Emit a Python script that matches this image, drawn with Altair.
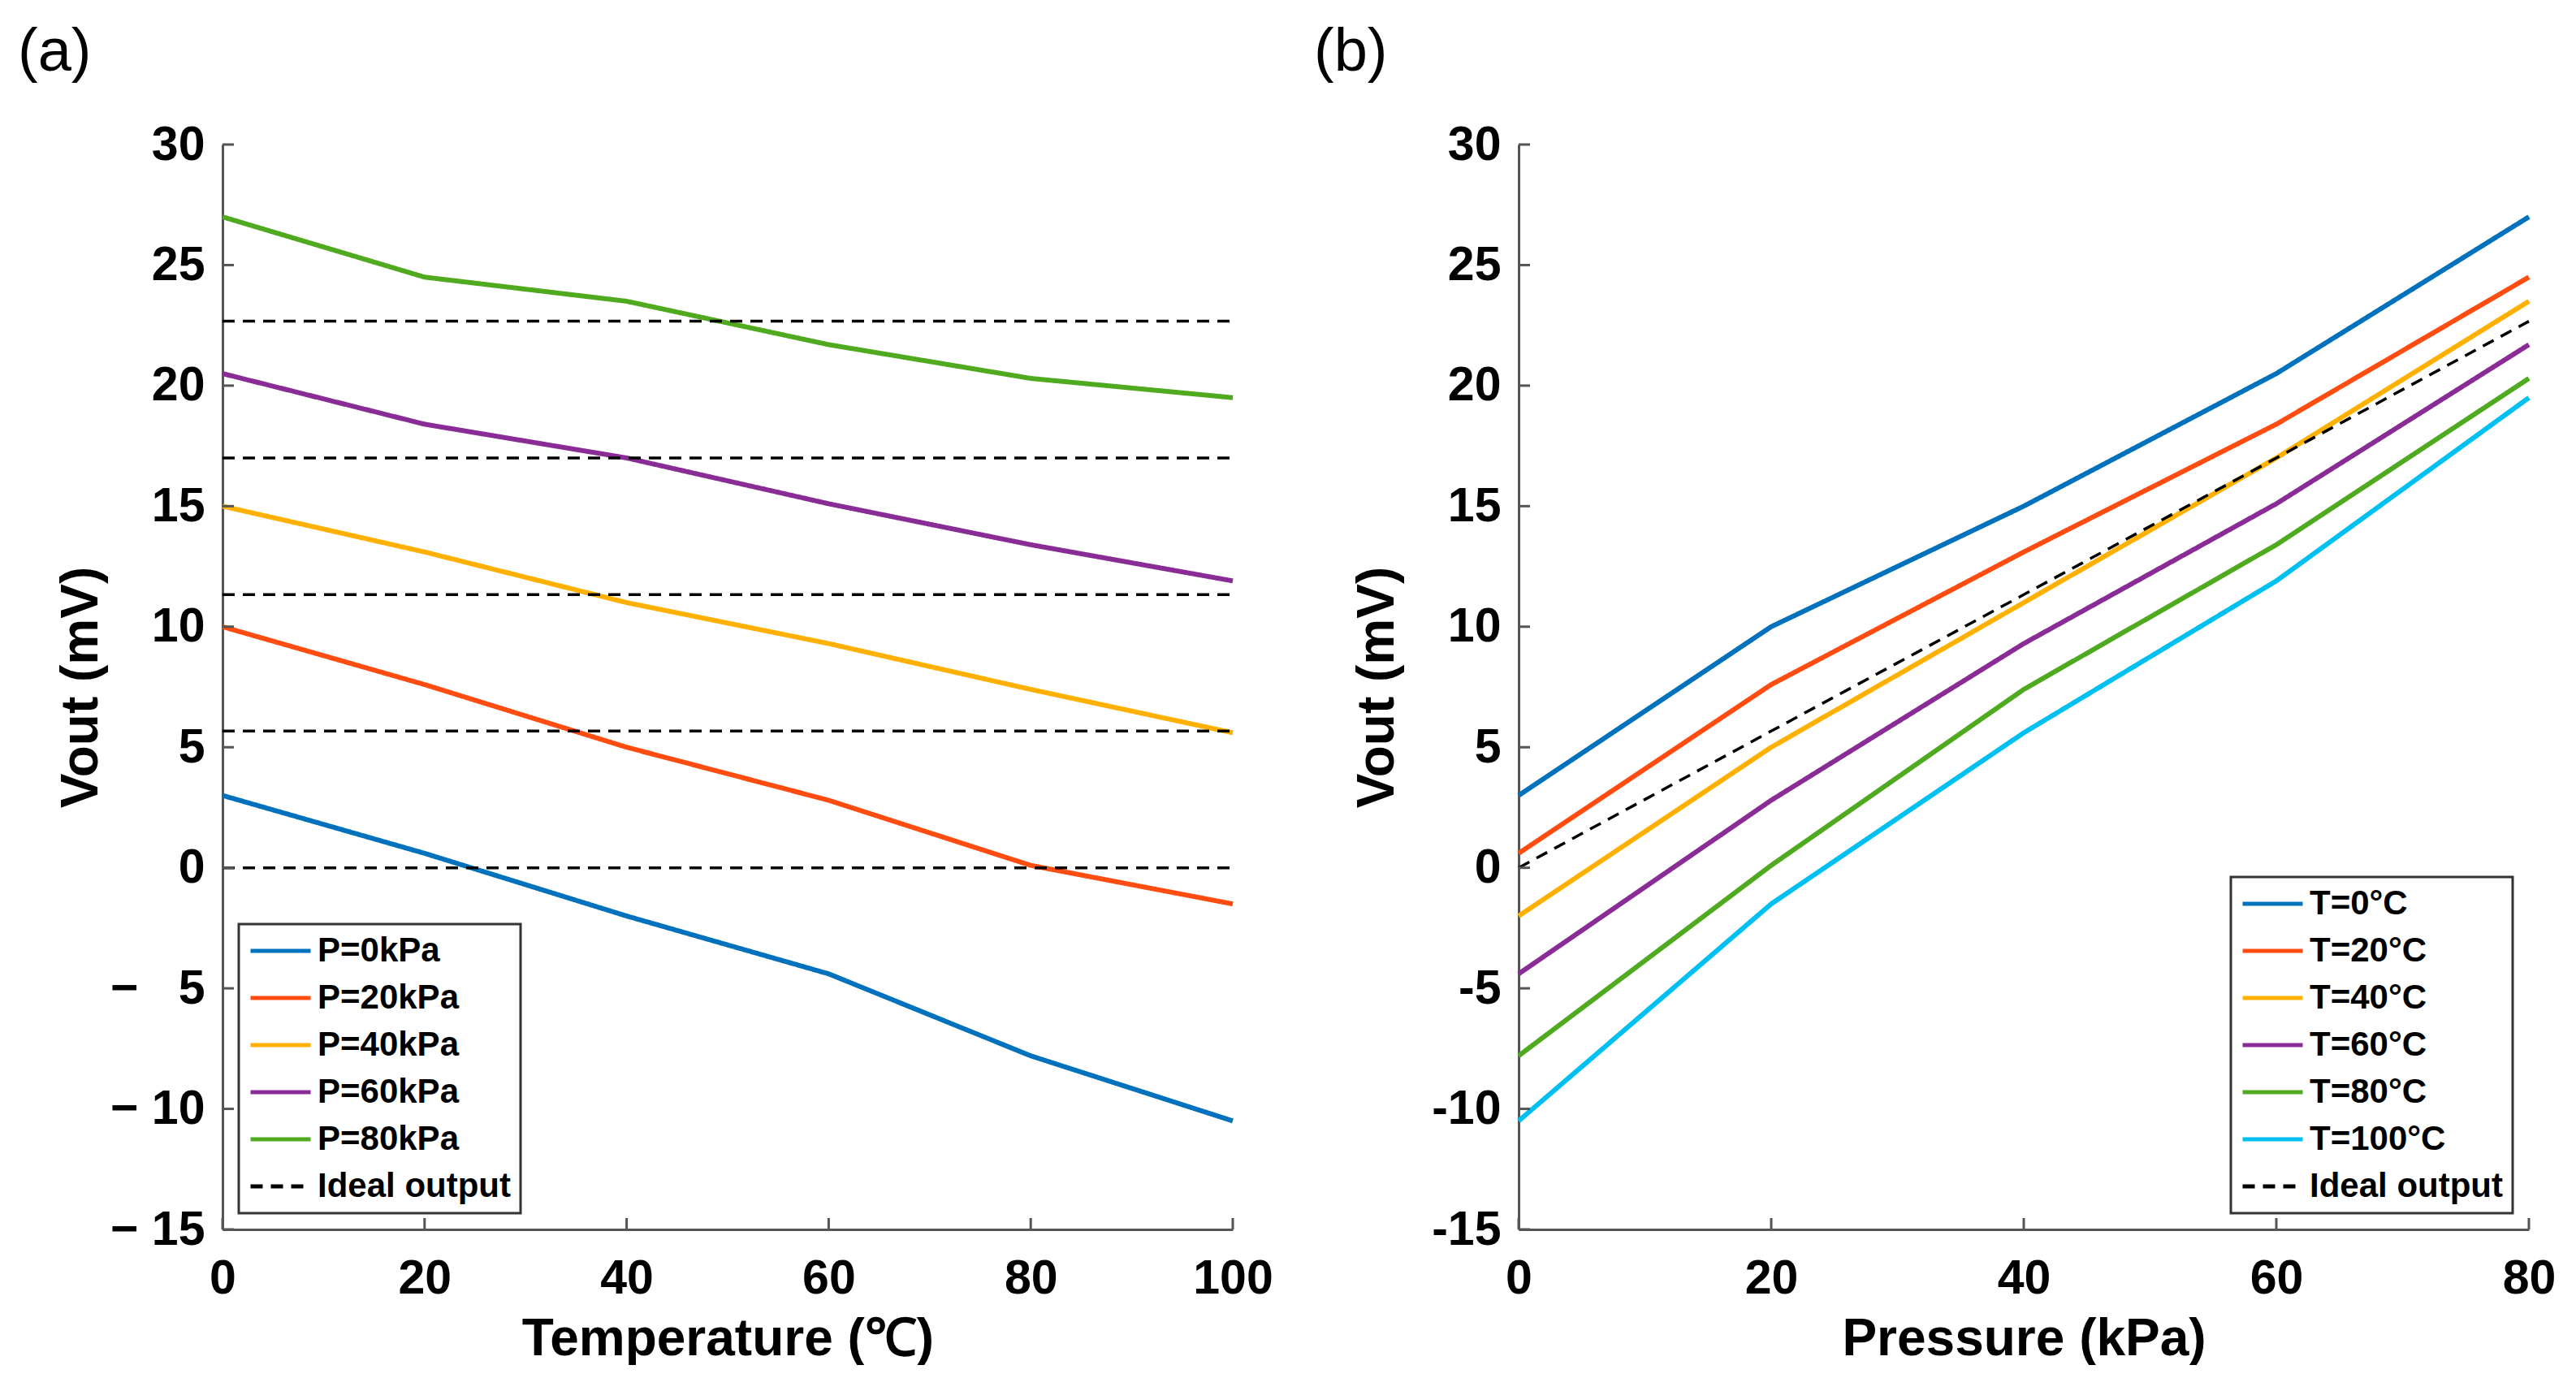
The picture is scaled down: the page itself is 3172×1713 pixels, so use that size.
import altair as alt
import pandas as pd

# ---- data ----
temps = [0, 20, 40, 60, 80, 100]
pressures = [0, 20, 40, 60, 80]

vout_p0 = [3.0, 0.6, -2.0, -4.4, -7.8, -10.5]
vout_p20 = [10.0, 7.6, 5.0, 2.8, 0.1, -1.5]
vout_p40 = [15.0, 13.1, 11.0, 9.3, 7.4, 5.6]
vout_p60 = [20.5, 18.4, 17.0, 15.1, 13.4, 11.9]
vout_p80 = [27.0, 24.5, 23.5, 21.7, 20.3, 19.5]

ideal_vout = [0.0, 5.67, 11.33, 17.0, 22.67]

p_labels = ["P=0kPa", "P=20kPa", "P=40kPa", "P=60kPa", "P=80kPa"]
t_labels = ["T=0°C", "T=20°C", "T=40°C", "T=60°C", "T=80°C", "T=100°C"]
ideal_label = "Ideal output"

temp_ticks = [0, 20, 40, 60, 80, 100]
press_ticks = [0, 20, 40, 60, 80]
vout_ticks = [-15, -10, -5, 0, 5, 10, 15, 20, 25, 30]

colors_p = ["#0072BD", "#FF4D12", "#FFB000", "#8A2C96", "#4FAA1F"]
colors_t = ["#0072BD", "#FF4D12", "#FFB000", "#8A2C96", "#4FAA1F", "#00C0F2"]

FONT = "Liberation Sans, Arial, Helvetica, sans-serif"
AXC = "#555555"
W, H = 1244, 1336

vout_by_p = [vout_p0, vout_p20, vout_p40, vout_p60, vout_p80]

# ---- tables ----
rows_a = []
for lab, vals in zip(p_labels, vout_by_p):
    for t, v in zip(temps, vals):
        rows_a.append({"x": t, "y": v, "series": lab, "grp": lab})
for i, v in enumerate(ideal_vout):
    for t in (temps[0], temps[-1]):
        rows_a.append({"x": t, "y": v, "series": ideal_label, "grp": f"ideal{i}"})
df_a = pd.DataFrame(rows_a)

rows_b = []
for j, lab in enumerate(t_labels):
    for i, p in enumerate(pressures):
        rows_b.append({"x": p, "y": vout_by_p[i][j], "series": lab, "grp": lab})
for p, v in zip(pressures, ideal_vout):
    rows_b.append({"x": p, "y": v, "series": ideal_label, "grp": "ideal"})
df_b = pd.DataFrame(rows_b)


def panel(df, xticks, xtitle, labels, colors, orient, neg_expr, ttl):
    domain = labels + [ideal_label]
    xs = alt.Scale(domain=[xticks[0], xticks[-1]], nice=False, zero=False)
    ys = alt.Scale(domain=[-15, 30], nice=False, zero=False)
    xax = alt.Axis(values=xticks, title=xtitle, labelFlush=False)
    yax = alt.Axis(values=vout_ticks, title="Vout (mV)", labelExpr=neg_expr)
    leg = alt.Legend(
        title=None, orient=orient, offset=20, padding=12, rowPadding=16,
        symbolType="M-1,0H3", symbolSize=37 * 37, symbolStrokeWidth=5,
        labelOffset=43, labelFontSize=42, labelFont=FONT, labelFontWeight="bold",
        labelColor="black", labelLimit=0, strokeColor="#333333", fillColor="white",
    )
    lines = alt.Chart(df).mark_line(strokeCap="butt").encode(
        x=alt.X("x:Q", scale=xs, axis=xax),
        y=alt.Y("y:Q", scale=ys, axis=yax),
        color=alt.Color("series:N", scale=alt.Scale(domain=domain, range=colors + ["black"]), legend=leg),
        strokeDash=alt.StrokeDash(
            "series:N",
            scale=alt.Scale(domain=domain, range=[[1, 0]] * len(labels) + [[15, 10]]),
            legend=leg,
        ),
        strokeWidth=alt.condition(alt.datum.series == ideal_label, alt.value(3.5), alt.value(6)),
        detail="grp:N",
    )
    yt = alt.Chart(pd.DataFrame({"y": vout_ticks})).mark_rule(color=AXC, strokeWidth=3).encode(
        y=alt.Y("y:Q", scale=ys, axis=yax), x=alt.value(0), x2=alt.value(14)
    )
    xt = alt.Chart(pd.DataFrame({"x": xticks})).mark_rule(color=AXC, strokeWidth=3).encode(
        x=alt.X("x:Q", scale=xs, axis=xax), y=alt.value(H), y2=alt.value(H - 14)
    )
    return alt.layer(lines, yt, xt).properties(
        width=W, height=H,
        title=alt.TitleParams(
            ttl, anchor="start", frame="group", fontSize=74, fontWeight="normal",
            font=FONT, color="black", dx=-252, baseline="alphabetic", offset=-12,
        ),
    )


neg_a = ("datum.value < 0 ? (abs(datum.value) < 10 ? '− \u2007' : '− ') + abs(datum.value)"
         " : datum.label")
neg_b = "datum.value < 0 ? '-' + abs(datum.value) : datum.label"

pa = panel(df_a, temp_ticks, "Temperature (℃)", p_labels, colors_p, "bottom-left", neg_a, "(a)")
pb = panel(df_b, press_ticks, "Pressure (kPa)", t_labels, colors_t, "bottom-right", neg_b, "(b)")

chart = (
    alt.hconcat(pa, pb, spacing=50)
    .resolve_scale(x="independent", y="independent", color="independent", strokeDash="independent")
    .resolve_legend(color="independent", strokeDash="independent")
    .properties(padding={"left": 14, "top": 20, "right": 0, "bottom": 0}, background="white")
    .configure_view(strokeWidth=0)
    .configure_legend(strokeColor="#333333", strokeWidth=3)
    .configure_axis(
        domainColor=AXC, domainWidth=3, ticks=False, tickSize=0, grid=False,
        labelFont=FONT, labelFontSize=59, labelFontWeight="bold", labelColor="black",
        titleFont=FONT, titleFontSize=64, titleFontWeight="bold", titleColor="black",
    )
    .configure_axisX(labelPadding=78, labelBaseline="alphabetic", titleY=154, titleBaseline="alphabetic")
    .configure_axisY(labelPadding=22, titleX=-155, titleBaseline="alphabetic")
)

chart.save("out.html", embed_options={"renderer": "svg", "actions": False})
